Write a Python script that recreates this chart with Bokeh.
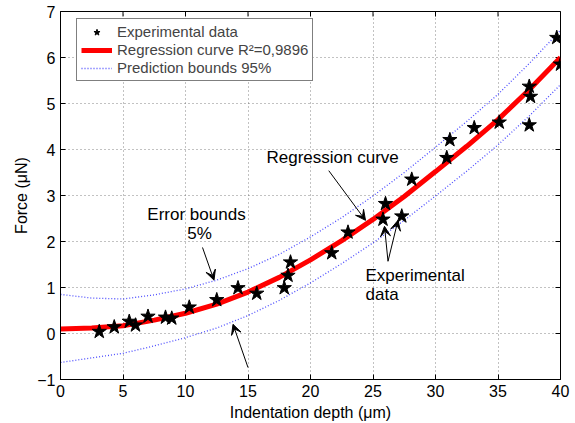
import math
from bokeh.plotting import figure
from bokeh.models import (Range1d, FixedTicker, Legend, LegendItem,
                          Label, Arrow, VeeHead)
from bokeh.embed import file_html
from bokeh.resources import INLINE

FONT = "Liberation Sans"

# Measured indentation data
depth_um = [3.1, 4.3, 5.5, 6.0, 7.0, 8.4, 8.9, 10.3, 12.5, 14.2, 15.7, 17.9, 18.2,
            18.4, 21.7, 23.0, 25.8, 26.0, 27.3, 28.1, 30.9, 31.15, 33.1, 35.1,
            37.5, 37.5, 37.6, 39.7, 40.0]
force_uN = [0.04, 0.14, 0.26, 0.18, 0.37, 0.35, 0.33, 0.57, 0.73, 0.99, 0.87, 0.99,
            1.26, 1.55, 1.75, 2.20, 2.48, 2.82, 2.55, 3.35, 3.82, 4.21, 4.47, 4.59,
            4.53, 5.37, 5.15, 6.43, 5.85]

# Fitted curve and 95% prediction bounds, sampled along the depth axis
fit_depth = [0, 2.5, 5, 7.5, 10, 12.5, 15, 17.5, 20, 22.5, 25, 27.5, 30, 32.5, 35, 37.5, 40]
fit_force = [0.10, 0.12, 0.17, 0.29, 0.44, 0.64, 0.90, 1.22, 1.60, 2.02, 2.48, 2.98,
             3.52, 4.07, 4.65, 5.30, 6.00]
upper_bound = [0.85, 0.77, 0.75, 0.84, 0.97, 1.16, 1.41, 1.72, 2.10, 2.52, 2.99, 3.50,
               4.05, 4.61, 5.20, 5.87, 6.59]
lower_bound = [-0.63, -0.53, -0.43, -0.27, -0.09, 0.12, 0.39, 0.72, 1.10, 1.52, 1.97,
               2.46, 2.99, 3.53, 4.10, 4.73, 5.41]

x_ticks = [0, 5, 10, 15, 20, 25, 30, 35, 40]
y_ticks = [-1, 0, 1, 2, 3, 4, 5, 6, 7]
X_MIN, X_MAX = 0, 40
Y_MIN, Y_MAX = -1, 7

p = figure(width=575, height=423, output_backend="svg", toolbar_location=None,
           x_range=Range1d(X_MIN, X_MAX), y_range=Range1d(Y_MIN, Y_MAX),
           min_border_left=60, min_border_right=15, min_border_top=11,
           min_border_bottom=44)
p.background_fill_color = "white"
p.border_fill_color = "white"
p.outline_line_color = "black"
p.outline_line_width = 1

# Axes: ticks point inward
for ax in (p.xaxis[0], p.yaxis[0]):
    ax.major_tick_in = 5
    ax.major_tick_out = 0
    ax.minor_tick_line_color = None
    ax.axis_line_color = "black"
    ax.major_tick_line_color = "black"
    ax.major_label_text_font = FONT
    ax.major_label_text_font_size = "16px"
    ax.major_label_text_color = "black"
    ax.axis_label_text_font = FONT
    ax.axis_label_text_font_size = "16px"
    ax.axis_label_text_font_style = "normal"
    ax.axis_label_text_color = "black"
    ax.major_label_standoff = 5
    ax.axis_label_standoff = 4

p.xaxis[0].ticker = FixedTicker(ticks=x_ticks)
p.yaxis[0].ticker = FixedTicker(ticks=y_ticks)
p.yaxis[0].major_label_overrides = {-1: "\u22121"}
p.xaxis[0].axis_label = "Indentation depth (\u03bcm)"
p.yaxis[0].axis_label = "Force (\u03bcN)"

p.xgrid.ticker = FixedTicker(ticks=x_ticks)
p.ygrid.ticker = FixedTicker(ticks=y_ticks)
for g in (p.xgrid[0], p.ygrid[0]):
    g.grid_line_color = "#666666"
    g.grid_line_dash = "1 3"
    g.grid_line_width = 1
    g.grid_line_alpha = 0.8

# Tick marks on the top and right edges of the box (half of each dash is
# clipped away by the frame, leaving an inward tick)
p.scatter(x_ticks, [Y_MAX] * len(x_ticks), marker="dash", angle=math.pi / 2,
          size=10, line_color="black", line_width=1)
p.scatter([X_MAX] * len(y_ticks), y_ticks, marker="dash", size=10,
          line_color="black", line_width=1)

# Prediction bounds
up = p.line(fit_depth, upper_bound, line_color="#2020ff", line_width=1.3,
            line_dash="1 2", line_alpha=0.8)
p.line(fit_depth, lower_bound, line_color="#2020ff", line_width=1.3,
       line_dash="1 2", line_alpha=0.8)

# Regression curve
reg = p.line(fit_depth, fit_force, line_color="#ff0000", line_width=5)

# Experimental points
pts = p.scatter(depth_um, force_uN, marker="star", size=15, fill_color="black",
                line_color="black")

legend = Legend(items=[
    LegendItem(label="Experimental data", renderers=[pts]),
    LegendItem(label="Regression curve R\u00b2=0,9896", renderers=[reg]),
    LegendItem(label="Prediction bounds 95%", renderers=[up]),
], location=(16, 298))
legend.label_text_font = FONT
legend.label_text_font_size = "15px"
legend.label_height = 16
legend.glyph_height = 16
legend.glyph_width = 31
legend.label_standoff = 5
legend.spacing = 1
legend.padding = 4
legend.margin = 0
legend.border_line_color = "black"
legend.border_line_width = 1
legend.background_fill_alpha = 1
p.add_layout(legend, "center")

# Annotations
def note(text, x, y, align="left"):
    p.add_layout(Label(x=x, y=y, text=text, text_font=FONT, text_font_size="17px",
                       text_align=align, text_baseline="middle", text_color="black"))

def pointer(x0, y0, x1, y1):
    p.add_layout(Arrow(end=VeeHead(size=10, fill_color="black", line_color="black",
                                   line_width=1),
                       x_start=x0, y_start=y0, x_end=x1, y_end=y1,
                       line_color="black", line_width=1))

note("Regression curve", 16.48, 3.83)
pointer(21.46, 3.54, 24.4, 2.46)

note("Error bounds", 10.88, 2.59, "center")
note("5%", 11.12, 2.17, "center")
pointer(11.36, 1.87, 12.28, 1.16)
pointer(15.0, -0.74, 13.8, 0.20)

note("Experimental", 24.4, 1.26)
note("data", 24.4, 0.85)
pointer(26.2, 1.57, 25.92, 2.33)
pointer(26.2, 1.57, 27.0, 2.46)

open("out.html", "w").write(file_html(p, INLINE))
